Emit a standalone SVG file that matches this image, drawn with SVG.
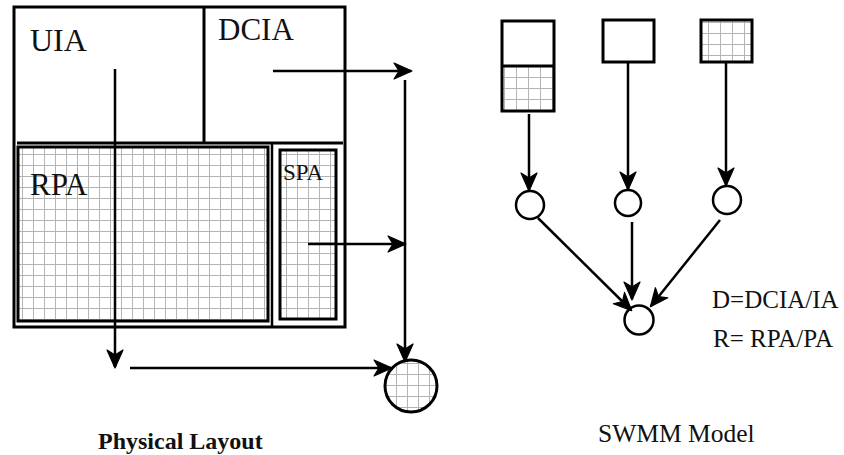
<svg xmlns="http://www.w3.org/2000/svg" width="844" height="455" viewBox="0 0 844 455">
<style>
.ln{stroke:#000;stroke-width:2.5;fill:none}
.bx{stroke:#000;stroke-width:3;fill:none}
.grid{fill:url(#grid)}
.gridS{fill:url(#gridS)}
.arr{stroke:#000;stroke-width:2.5;fill:none;marker-end:url(#ah)}
text{font-family:'Liberation Serif','Times New Roman',Times,serif;fill:#111}
</style>
<defs>
<pattern id="grid" patternUnits="userSpaceOnUse" x="0" y="0" width="11" height="11">
<rect width="11" height="11" fill="#fff"/>
<path d="M0,0.5 H11 M0.5,0 V11" stroke="#b4b4b4" stroke-width="1"/>
</pattern>
<pattern id="gridS" patternUnits="userSpaceOnUse" x="0" y="0" width="12" height="11">
<rect width="12" height="11" fill="#fff"/>
<path d="M0,0.5 H12 M0.5,0 V11" stroke="#b4b4b4" stroke-width="1"/>
</pattern>
<marker id="ah" markerUnits="userSpaceOnUse" markerWidth="22" markerHeight="22" refX="18" refY="11" orient="auto">
<path d="M1,3 L19,11 L1,19 L6,11 z" fill="#000" stroke="#000" stroke-width="1.2" stroke-linejoin="round"/>
</marker>
</defs>
<rect width="844" height="455" fill="#fff"/>

<g id="physical-layout" font-family="Liberation Serif, Times New Roman, serif">
<g id="outer-box"><rect class="bx" x="14" y="7" width="331" height="320"/></g>
<g id="uia"><line class="bx" x1="204" y1="7" x2="204" y2="143"/><line class="bx" x1="17" y1="143" x2="343" y2="143"/>
<text x="30" y="51" font-size="32" font-family="Liberation Serif, serif">UIA</text></g>
<g id="dcia"><text x="218" y="40" font-size="31" font-family="Liberation Serif, serif">DCIA</text></g>
<g id="rpa"><rect class="grid" x="18" y="147" width="250" height="174"/><rect class="bx" x="18" y="147" width="250" height="174"/>
<line class="ln" x1="272" y1="143" x2="272" y2="327"/>
<text x="30" y="195" font-size="31" font-family="Liberation Serif, serif">RPA</text></g>
<g id="spa"><rect class="grid" x="280" y="150" width="56" height="169"/><rect class="bx" x="280" y="150" width="56" height="169"/>
<text x="283" y="180" font-size="23" font-family="Liberation Serif, serif">SPA</text></g>
<g id="outlet"><circle cx="411" cy="386" r="26" class="grid"/><circle cx="411" cy="386" r="26" fill="none" stroke="#000" stroke-width="3"/></g>
<text x="98" y="449" font-size="24" font-weight="bold" font-family="Liberation Serif, serif">Physical Layout</text>
</g>

<g id="swmm-model" font-family="Liberation Serif, serif">
<g id="sub1"><rect class="gridS" x="502" y="66" width="52" height="45"/><rect class="bx" x="502" y="21" width="52" height="90"/><line class="bx" x1="502" y1="66" x2="554" y2="66"/></g>
<g id="sub2"><rect class="bx" x="603" y="20" width="51" height="42"/></g>
<g id="sub3"><rect class="gridS" x="701" y="20" width="51" height="42"/><rect class="bx" x="701" y="20" width="51" height="42"/></g>
<g id="n1"><circle cx="530" cy="205" r="14" fill="#fff" stroke="#000" stroke-width="2.5"/></g>
<g id="n2"><circle cx="628" cy="203" r="13" fill="#fff" stroke="#000" stroke-width="2.5"/></g>
<g id="n3"><circle cx="727" cy="200" r="14" fill="#fff" stroke="#000" stroke-width="2.5"/></g>
<g id="n-out"><circle cx="639" cy="320" r="14.5" fill="#fff" stroke="#000" stroke-width="2.5"/></g>
<text x="712" y="308" font-size="25" font-family="Liberation Serif, serif">D=DCIA/IA</text>
<text x="713" y="347" font-size="25" font-family="Liberation Serif, serif">R= RPA/PA</text>
<text x="598" y="442" font-size="25.5" font-family="Liberation Serif, serif">SWMM Model</text>
</g>

<g id="connectors">
<line class="arr" x1="115" y1="69" x2="115" y2="367"/>
<line class="arr" x1="273" y1="71" x2="411" y2="71"/>
<line class="arr" x1="405" y1="80" x2="405" y2="361"/>
<line class="arr" x1="308" y1="244" x2="405" y2="244"/>
<line class="arr" x1="130" y1="368" x2="391" y2="368"/>
<line class="arr" x1="529" y1="114" x2="529" y2="190"/>
<line class="arr" x1="628" y1="62" x2="628" y2="189"/>
<line class="arr" x1="726" y1="62" x2="726" y2="185"/>
<line class="arr" x1="538" y1="218" x2="631" y2="310"/>
<line class="arr" x1="632" y1="222" x2="632" y2="299"/>
<line class="arr" x1="720" y1="220" x2="651" y2="306"/>
</g>
</svg>
